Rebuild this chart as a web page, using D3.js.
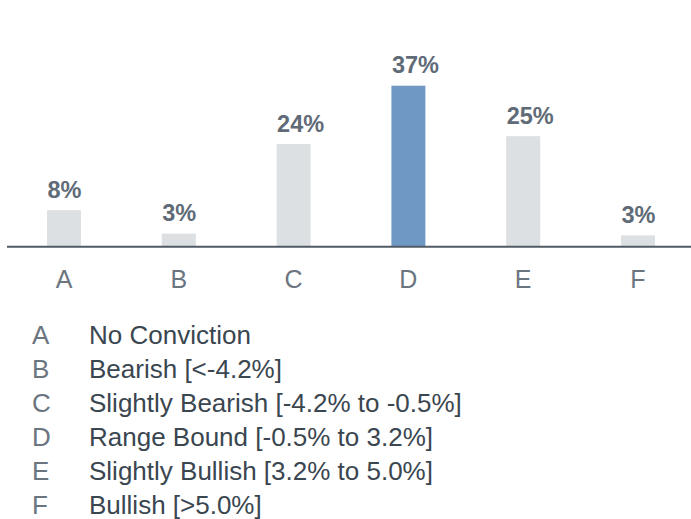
<!DOCTYPE html>
<html><head><meta charset="utf-8">
<script src="https://cdn.jsdelivr.net/npm/d3@7"></script>
<style>body{margin:0;background:#fff}svg{display:block}</style>
</head><body>
<script>
const categories = ["A","B","C","D","E","F"];
const values = [8.4, 3.0, 23.6, 37.0, 25.4, 2.6];
const labels = ["8%","3%","24%","37%","25%","3%"];
const descriptions = ["No Conviction","Bearish [<-4.2%]","Slightly Bearish [-4.2% to -0.5%]","Range Bound [-0.5% to 3.2%]","Slightly Bullish [3.2% to 5.0%]","Bullish [>5.0%]"];
const highlight = "D";

const W = 691, H = 519, baseY = 246.7;
const svg = d3.select("body").append("svg").attr("width", W).attr("height", H);
const font = "Liberation Sans, Arial, sans-serif";

const x = d3.scaleBand().domain(categories).range([6.6, 695.4]).paddingInner(0.704).paddingOuter(0.352);
const y = d3.scaleLinear().domain([0, 37]).range([baseY, 85.7]);

svg.selectAll("rect.bar").data(categories).join("rect")
  .attr("class","bar")
  .attr("x", d => x(d)).attr("width", x.bandwidth())
  .attr("y", (d,i) => y(values[i])).attr("height", (d,i) => baseY - y(values[i]))
  .attr("fill", d => d === highlight ? "#7098c4" : "#dce0e3");

svg.selectAll("text.val").data(categories).join("text")
  .attr("class","val")
  .attr("x", d => x(d) + 0.5)
  .attr("y", (d,i) => y(values[i]) - 12.4)
  .attr("text-anchor","start")
  .attr("font-family", font).attr("font-weight","bold").attr("font-size", 23.5)
  .attr("fill","#5f6b77")
  .text((d,i) => labels[i]);

const axis = d3.axisBottom(x).tickSize(0).tickPadding(23.5);
const ag = svg.append("g").attr("transform", `translate(0,${baseY})`).call(axis);
ag.select(".domain").remove();
ag.append("line").attr("x1", 7).attr("x2", 691).attr("stroke","#4f5a64").attr("stroke-width",2);
ag.selectAll(".tick text").attr("font-family", font).attr("font-size", 25).attr("fill","#6b7580");

const lg = svg.append("g");
const rows = lg.selectAll("g").data(categories).join("g")
  .attr("transform", (d,i) => `translate(0,${344 + i*34})`);
rows.append("text").attr("x", 32).attr("font-family", font).attr("font-size", 26).attr("fill","#6b7580").text(d => d);
rows.append("text").attr("x", 89).attr("font-family", font).attr("font-size", 26).attr("fill","#3a4650").text((d,i) => descriptions[i]);
</script>
</body></html>
